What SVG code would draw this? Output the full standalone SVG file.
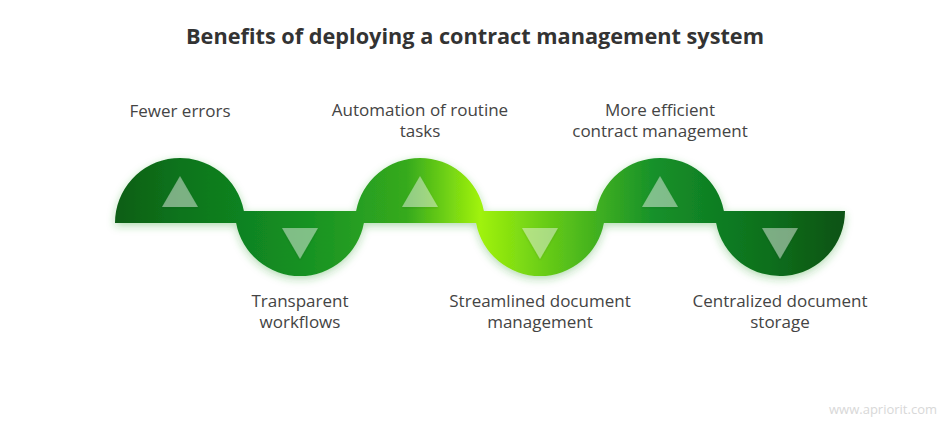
<svg xmlns="http://www.w3.org/2000/svg" width="950" height="429" viewBox="0 0 950 429">
<defs>
<linearGradient id="band" gradientUnits="userSpaceOnUse" x1="115" y1="0" x2="845" y2="0">
<stop offset="0" stop-color="#0a5e14"/>
<stop offset="0.09" stop-color="#0c741c"/>
<stop offset="0.25" stop-color="#149024"/>
<stop offset="0.40" stop-color="#36aa1e"/>
<stop offset="0.50" stop-color="#a0f20c"/>
<stop offset="0.60" stop-color="#62c818"/>
<stop offset="0.74" stop-color="#15902a"/>
<stop offset="0.9" stop-color="#0b6e1c"/>
<stop offset="1" stop-color="#075212"/>
</linearGradient>
<filter id="glow" x="-10%" y="-30%" width="120%" height="160%">
<feDropShadow dx="0" dy="3" stdDeviation="4" flood-color="#2a9a2a" flood-opacity="0.35"/>
</filter>
<filter id="tri" x="-30%" y="-30%" width="160%" height="160%">
<feDropShadow dx="0" dy="1" stdDeviation="1.2" flood-color="#003300" flood-opacity="0.3"/>
</filter>
</defs>
<style>
.title{font-family:"Open Sans","Liberation Sans",sans-serif;font-weight:700;font-size:21.7px;fill:#333;}
.lbl{font-family:"Open Sans","Liberation Sans",sans-serif;font-size:17px;fill:#444;text-anchor:middle;}
.tri{fill:#ffffff;fill-opacity:0.42;filter:url(#tri);}
.wm{font-family:"Open Sans","Liberation Sans",sans-serif;font-size:13px;fill:#d8d8d8;}
</style>
<rect width="950" height="429" fill="#ffffff"/>
<text class="title" x="475" y="44" text-anchor="middle">Benefits of deploying a contract management system</text>
<g id="connectors">
<path d="M115,223 A65,65 0 0 1 243.9,211 L356.1,211 A65,65 0 0 1 483.9,211 L596.1,211 A65,65 0 0 1 723.9,211 L845,211 A65,65 0 0 1 716.1,223 L603.9,223 A65,65 0 0 1 476.1,223 L363.9,223 A65,65 0 0 1 236.1,223 Z" fill="url(#band)" filter="url(#glow)"/>
</g>
<g id="n1">
<polygon class="tri" points="180,176 198,207 162,207"/>
<text class="lbl" x="180" y="117">Fewer errors</text>
</g>
<g id="n2">
<polygon class="tri" points="282,228 318,228 300,259"/>
<text class="lbl" x="300" y="307">Transparent</text>
<text class="lbl" x="300" y="328">workflows</text>
</g>
<g id="n3">
<polygon class="tri" points="420,176 438,207 402,207"/>
<text class="lbl" x="420" y="116">Automation of routine</text>
<text class="lbl" x="420" y="137">tasks</text>
</g>
<g id="n4">
<polygon class="tri" points="522,228 558,228 540,259"/>
<text class="lbl" x="540" y="307">Streamlined document</text>
<text class="lbl" x="540" y="328">management</text>
</g>
<g id="n5">
<polygon class="tri" points="660,176 678,207 642,207"/>
<text class="lbl" x="660" y="116">More efficient</text>
<text class="lbl" x="660" y="137">contract management</text>
</g>
<g id="n6">
<polygon class="tri" points="762,228 798,228 780,259"/>
<text class="lbl" x="780" y="307">Centralized document</text>
<text class="lbl" x="780" y="328">storage</text>
</g>
<text class="wm" x="937" y="414" text-anchor="end">www.apriorit.com</text>
</svg>
